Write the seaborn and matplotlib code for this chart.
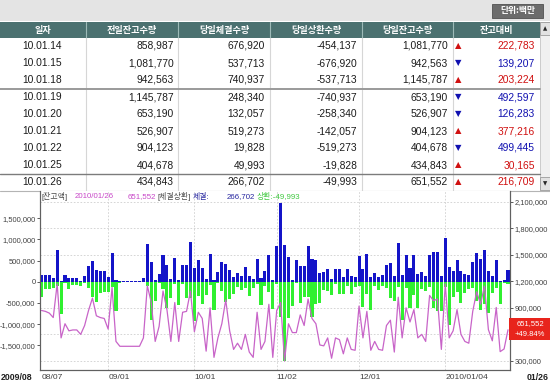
import numpy as np
import pandas as pd
import matplotlib
matplotlib.use("Agg")
import matplotlib.pyplot as plt
import seaborn as sns
from matplotlib.patches import Rectangle
from matplotlib.ticker import FuncFormatter

# ---- table rows (unit: 백만) ----
row_dates = ["10.01.14", "10.01.15", "10.01.18", "10.01.19", "10.01.20",
             "10.01.21", "10.01.22", "10.01.25", "10.01.26"]
prev_balance = [858987, 1081770, 942563, 1145787, 653190, 526907, 904123, 404678, 434843]
day_exec = [676920, 537713, 740937, 248340, 132057, 519273, 19828, 49993, 266702]
day_repay = [-454137, -676920, -537713, -740937, -258340, -142057, -519273, -19828, -49993]
day_balance = [1081770, 942563, 1145787, 653190, 526907, 904123, 404678, 434843, 651552]
balance_diff = [222783, 139207, 203224, 492597, 126283, 377216, 499445, 30165, 216709]
headers = ["일자", "전일잔고수량", "당일체결수량", "당일상환수량", "당일잔고수량", "잔고대비"]

# ---- daily series 2009/08/07 .. 2010/01/26, in thousands ----
exec_k = [170, 170, 155, 90, 760, 25, 170, 80, 80, 95,
          25, 140, 360, 490, 270, 250, 245, 115, 680, 40,
          12, 12, 12, 12, 12, 12, 90, 900, 460, 30,
          180, 620, 390, 55, 550, 45, 385, 385, 930, 330,
          520, 320, 70, 660, 35, 230, 470, 410, 285, 120,
          195, 140, 345, 140, 65, 545, 90, 243, 640, 50,
          836, 1870, 866, 585, 30, 510, 372, 372, 836, 532,
          510, 205, 228, 304, 53, 289, 289, 106, 296, 129,
          106, 608, 289, 661, 106, 205, 106, 152, 395, 445,
          129, 904, 152, 623, 319, 623, 182, 228, 129, 623,
          699, 699, 129, 1030, 357, 243, 509, 258, 182, 152,
          456, 676.92, 537.713, 740.937, 248.34, 132.057, 519.273, 19.828, 49.993, 266.702]
repay_k = [-365, -170, -170, -155, -90, -760, -25, -170, -80, -80,
           -95, -25, -140, -360, -490, -270, -250, -245, -115, -680,
           -40, -12, -12, -12, -12, -12, -12, -90, -900, -460,
           -30, -180, -620, -390, -55, -550, -45, -385, -385, -930,
           -330, -520, -320, -70, -660, -35, -230, -470, -410, -285,
           -120, -195, -140, -345, -140, -65, -545, -90, -243, -640,
           -50, -836, -1870, -866, -585, -30, -510, -372, -372, -836,
           -532, -510, -205, -228, -304, -53, -289, -289, -106, -296,
           -129, -106, -608, -289, -661, -106, -205, -106, -152, -395,
           -445, -129, -904, -152, -623, -319, -623, -182, -228, -129,
           -623, -699, -699, -129, -1030, -357, -243, -509, -258, -182,
           -152, -454.137, -676.92, -537.713, -740.937, -258.34, -142.057, -519.273, -19.828, -49.993]
balance_k = [870, 860, 840, 790, 1170, 560, 720, 640, 650, 650,
             600, 700, 870, 1010, 810, 790, 780, 660, 1130, 520,
             465, 465, 465, 465, 465, 465, 560, 1150, 960, 520,
             690, 1090, 880, 520, 960, 520, 850, 860, 1090, 630,
             850, 780, 410, 900, 340, 560, 720, 990, 640, 430,
             500, 430, 600, 400, 340, 850, 430, 520, 940, 340,
             870, 960, 300, 720, 620, 620, 820, 700, 1000, 780,
             720, 480, 470, 560, 330, 560, 540, 380, 560, 430,
             420, 920, 560, 860, 420, 520, 430, 420, 700, 760,
             400, 1020, 560, 900, 740, 880, 560, 600, 520, 1040,
             980, 1000, 430, 1170, 560, 640, 880, 600, 520, 500,
             858.987, 1081.77, 942.563, 1145.787, 653.19, 526.907, 904.123, 404.678, 434.843, 651.552]
tick_idx = [0, 17, 39, 60, 81, 103]
tick_labels = ["08/07", "09/01", "10/01", "11/02", "12/01", "2010/01/04"]

BLUE = "#1414c8"
GREEN = "#30f030"
PINK = "#c864c8"
UP_RED = "#d01010"
DOWN_BLUE = "#1010b0"

sns.set_style("white")
plt.rcParams["font.family"] = ["Liberation Sans", "Noto Sans CJK KR"]
plt.rcParams["axes.unicode_minus"] = False

fig = plt.figure(figsize=(5.5, 3.84), dpi=100)
fig.patch.set_facecolor("white")

# ---- background layer in pixel coordinates: the table ----
bg = fig.add_axes([0, 0, 1, 1])
bg.set_xlim(0, 550)
bg.set_ylim(384, 0)
bg.axis("off")

bg.add_patch(Rectangle((0, 0), 550, 21, fc="#e4e4e4", ec="none"))
bg.add_patch(Rectangle((492, 4), 51, 14, fc="#6c6c6c", ec="#505050", lw=0.6))
bg.text(517.5, 11, "단위:백만", color="white", fontsize=6.3, fontweight="bold",
        ha="center", va="center", family="Noto Sans CJK KR")

col_edges = [0, 86, 178, 270, 362, 453, 540]
bg.add_patch(Rectangle((0, 22), 540, 16, fc="#4b7170", ec="none"))
for x in col_edges[1:-1]:
    bg.plot([x, x], [22, 38], color="#9dbab8", lw=0.8)
    bg.plot([x, x], [38, 191], color="#d6d6d6", lw=0.8)
for k, h in enumerate(headers):
    bg.text((col_edges[k] + col_edges[k + 1]) / 2, 30, h, color="white", fontsize=6.6,
            fontweight="bold", ha="center", va="center", family="Noto Sans CJK KR")

num_kw = dict(fontsize=7.4, va="center", color="#1c1c1c")
for r in range(len(row_dates)):
    y = 46 + 17 * r
    up = day_balance[r] > prev_balance[r]
    c = UP_RED if up else DOWN_BLUE
    bg.text(42, y, row_dates[r], ha="center", **num_kw)
    bg.text(174, y, f"{prev_balance[r]:,}", ha="right", **num_kw)
    bg.text(265, y, f"{day_exec[r]:,}", ha="right", **num_kw)
    bg.text(357, y, f"{day_repay[r]:,}", ha="right", **num_kw)
    bg.text(448, y, f"{day_balance[r]:,}", ha="right", **num_kw)
    bg.text(458, y, "▲" if up else "▼", color=c, fontsize=6, ha="center", va="center",
            family="DejaVu Sans")
    bg.text(535, y, f"{balance_diff[r]:,}", color=c, fontsize=7.4, ha="right", va="center")

bg.plot([0, 540], [88.5, 88.5], color="#9a9a9a", lw=1.4)
bg.plot([0, 540], [174, 174], color="#7c7c7c", lw=1.0)
bg.plot([0, 550], [191, 191], color="#b4b4b4", lw=0.8)

# scrollbar
bg.add_patch(Rectangle((540, 22), 10, 169, fc="#f0f0f0", ec="#c4c4c4", lw=0.6))
bg.add_patch(Rectangle((540, 22), 10, 13, fc="#e2e2e2", ec="#9c9c9c", lw=0.6))
bg.add_patch(Rectangle((540, 177), 10, 13, fc="#e2e2e2", ec="#9c9c9c", lw=0.6))
bg.text(545, 28.5, "▲", fontsize=4, ha="center", va="center", family="DejaVu Sans")
bg.text(545, 183.5, "▼", fontsize=4, ha="center", va="center", family="DejaVu Sans")

# ---- chart ----
n = len(exec_k)
pos = np.arange(n)
bars = pd.DataFrame({
    "pos": np.r_[pos, pos],
    "qty": np.r_[np.array(exec_k), np.array(repay_k)] * 1000,
    "kind": ["체결"] * n + ["상환"] * n,
})

ax = fig.add_axes([40 / 550, 14 / 384, 470 / 550, 179 / 384])
ax2 = ax.twinx()

sns.barplot(data=bars, x="pos", y="qty", hue="kind", palette={"체결": BLUE, "상환": GREEN},
            native_scale=True, dodge=False, width=0.78, errorbar=None, saturation=1,
            linewidth=0, legend=False, ax=ax, zorder=2)
sns.lineplot(x=pos, y=np.array(balance_k) * 1000, color=PINK, linewidth=0.9, ax=ax2)

left_lim = (-2.085e6, 2.142e6)
right_lim = (0.197e6, 2.221e6)
ax.set_xlim(-0.38, n - 0.49)
ax.set_ylim(*left_lim)
ax2.set_ylim(*right_lim)

right_ticks = np.arange(300000, 2100001, 300000)
for rt in right_ticks:
    lv = left_lim[0] + (rt - right_lim[0]) / (right_lim[1] - right_lim[0]) * (left_lim[1] - left_lim[0])
    ax.axhline(lv, color="#cfcfcf", lw=0.6, ls=(0, (2, 2)), zorder=0)
for t in tick_idx[1:]:
    ax.axvline(t, color="#cfcfcf", lw=0.6, ls=(0, (2, 2)), zorder=0)

fmt = FuncFormatter(lambda v, p: f"{v:,.0f}")
# the 600,000 label sits under the last-value tag, so it stays blank
fmt_right = FuncFormatter(lambda v, p: "" if abs(v - 600000) < 1 else f"{v:,.0f}")
ax.set_yticks(np.arange(-1500000, 1500001, 500000))
ax.yaxis.set_major_formatter(fmt)
ax2.set_yticks(right_ticks)
ax2.yaxis.set_major_formatter(fmt_right)
ax.set_xticks(tick_idx)
ax.set_xticklabels(tick_labels, ha="left")

ax.tick_params(axis="y", labelsize=5.4, colors="#404040", length=2.5, width=0.6, pad=0.8)
ax2.tick_params(axis="y", labelsize=5.4, colors="#404040", length=2.5, width=0.6, pad=0.8)
ax.tick_params(axis="x", labelsize=6.1, colors="#404040", length=0, pad=3)
for a in (ax, ax2):
    a.set_xlabel("")
    a.set_ylabel("")
    a.spines["top"].set_visible(False)
    for s in ("left", "right", "bottom"):
        a.spines[s].set_color("#606060")
        a.spines[s].set_linewidth(0.8)
ax.grid(False)
ax2.grid(False)

# ---- overlay: legend line, edge labels, last value tag ----
top = fig.add_axes([0, 0, 1, 1], zorder=10)
top.set_xlim(0, 550)
top.set_ylim(384, 0)
top.axis("off")
top.patch.set_alpha(0)

legend_parts = [
    (41, "[잔고액]", "#4a4a4a"),
    (75, "2010/01/26", "#c848c8"),
    (128, "651,552", "#c848c8"),
    (158, "[체결상환]", "#4a4a4a"),
    (193, "체결:", "#2828a0"),
    (227, "266,702", "#2828a0"),
    (257, "상환:-49,993", "#40c840"),
]
for x, s, c in legend_parts:
    top.text(x, 196.5, s, color=c, fontsize=5.7, ha="left", va="center")

top.text(1, 377.5, "2009/08", fontsize=6.3, fontweight="bold", color="#202020", ha="left", va="center")
top.text(549, 377.5, "01/26", fontsize=6.3, fontweight="bold", color="#202020", ha="right", va="center")

top.add_patch(Rectangle((509, 318), 41, 22, fc="#e8241c", ec="none"))
top.text(530, 323.5, f"{day_balance[-1]:,}", color="white", fontsize=5.5, ha="center", va="center")
top.text(530, 334, "+49.84%", color="white", fontsize=5.5, ha="center", va="center")

fig.savefig("out.png", dpi=100)
